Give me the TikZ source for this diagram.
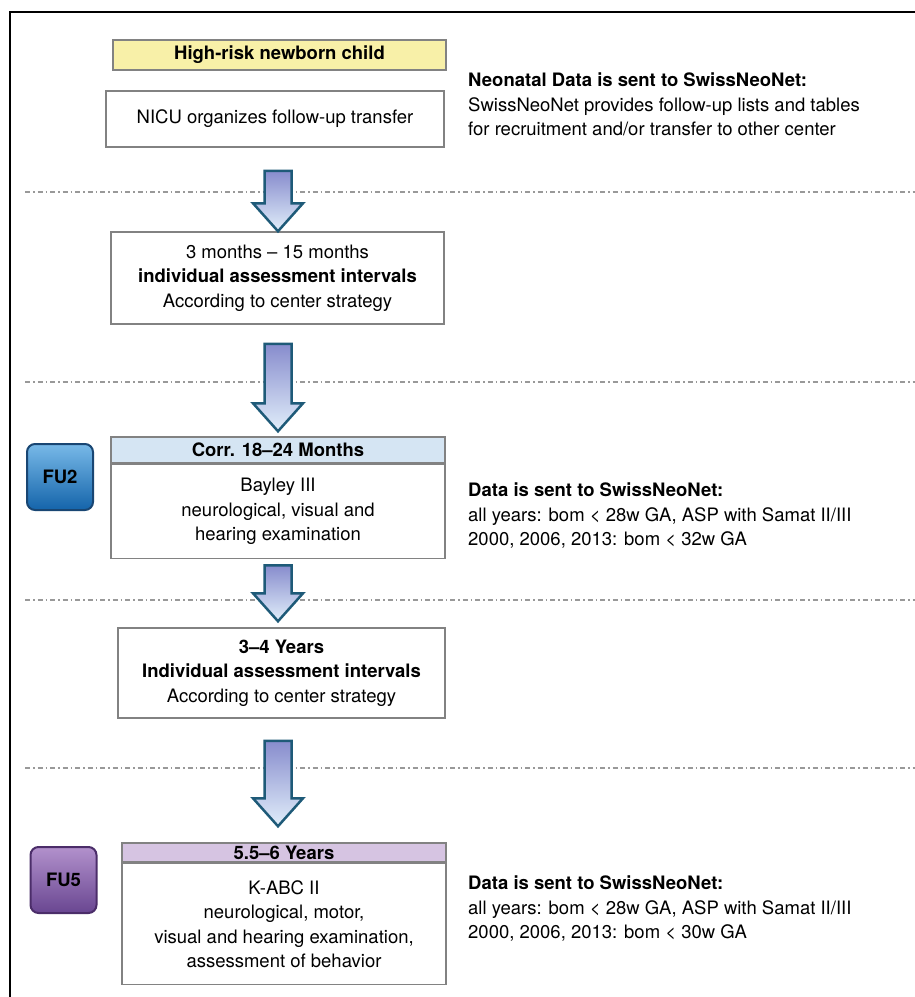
\documentclass[tikz,border=0pt]{standalone}
\usepackage{fontspec}
\setmainfont{TeX Gyre Heros}
\usetikzlibrary{calc,positioning}

\definecolor{framegray}{RGB}{130,130,130}
\definecolor{startyellow}{RGB}{248,240,168}
\definecolor{headblue}{RGB}{213,229,243}
\definecolor{headpurple}{RGB}{214,196,226}
\definecolor{arrowline}{RGB}{30,90,120}
\definecolor{arrowtop}{RGB}{135,140,205}
\definecolor{arrowbottom}{RGB}{225,238,250}

% block arrow from a tail point down to a tip point
\newcommand{\blockarrow}[2]{%
  \draw[arrowbody] let \p1=#1, \p2=#2 in
    (\x2-13.5pt,\y1) -- (\x2+13.5pt,\y1) -- (\x2+13.5pt,\y2+28pt) -- (\x2+25pt,\y2+28pt)
    -- (\x2,\y2) -- (\x2-25pt,\y2+28pt) -- (\x2-13.5pt,\y2+28pt) -- cycle;}

\begin{document}
\begin{tikzpicture}[
    x=1pt, y=1pt,
    every node/.style={font=\fontsize{18.5}{24.5}\selectfont, text=black},
    stepbox/.style={rectangle, draw=framegray, line width=1.5pt, fill=white, align=center, inner sep=0pt},
    headbox/.style={stepbox, font=\fontsize{18.5}{24.5}\selectfont\bfseries},
    infotext/.style={anchor=north west, align=left, inner sep=0pt},
    fubadge/.style={rectangle, rounded corners=8pt, line width=2pt, minimum width=66pt, minimum height=66pt,
        font=\fontsize{18.5}{24.5}\selectfont\bfseries},
    sepline/.style={draw=black!40, line width=1.2pt, dash pattern=on 5pt off 3pt on 1.5pt off 3pt},
    arrowbody/.style={draw=arrowline, line width=2.5pt, line join=miter, top color=arrowtop, bottom color=arrowbottom}
]
    \useasboundingbox (0,0) rectangle (915,-997);
    \draw[line width=1.5pt] (10,-997) -- (10,-12) -- (915,-12);

    \foreach \y in {192,382,600,768}
        \draw[sepline] (25,-\y) -- (915,-\y);

    \coordinate (axis) at (278,0);

    % flow boxes
    \node[headbox, fill=startyellow, minimum width=333pt, minimum height=30pt] (start) at (279.5,-55) {High-risk newborn child};
    \node[stepbox, minimum width=338pt, minimum height=56pt] (nicu) at (275,-119) {NICU organizes follow-up transfer};
    \node[stepbox, minimum width=333pt, minimum height=92pt] (early) at (277.5,-278)
        {3 months – 15 months\\\textbf{individual assessment intervals}\\According to center strategy};

    \node[headbox, fill=headblue, minimum width=334pt, minimum height=26pt] (fu2head) at (278,-450) {Corr. 18–24 Months};
    \node[stepbox, minimum width=334pt, minimum height=94pt, below=0pt of fu2head] (fu2body)
        {Bayley III\\neurological, visual and\\hearing examination};

    \node[stepbox, minimum width=327pt, minimum height=90pt] (mid) at (281.5,-673)
        {\textbf{3–4 Years}\\\textbf{Individual assessment intervals}\\According to center strategy};

    \node[headbox, fill=headpurple, minimum width=324pt, minimum height=19pt] (fu5head) at (284,-852.5) {5.5–6 Years};
    \node[stepbox, minimum width=324pt, minimum height=121pt, below=0pt of fu5head] (fu5body)
        {K-ABC II\\neurological, motor,\\visual and hearing examination,\\assessment of behavior};

    % follow-up badges
    \node[fubadge, draw={rgb,255:red,25;green,70;blue,115},
        top color={rgb,255:red,120;green,185;blue,232}, bottom color={rgb,255:red,20;green,100;blue,170}] (fu2) at (60,-477) {FU2};
    \node[fubadge, draw={rgb,255:red,75;green,45;blue,105},
        top color={rgb,255:red,178;green,145;blue,204}, bottom color={rgb,255:red,105;green,70;blue,145}] (fu5) at (63.5,-880) {FU5};

    % data notes
    \node[infotext] (note1) at (468,-73) {\textbf{Neonatal Data is sent to SwissNeoNet:}\\SwissNeoNet provides follow-up lists and tables\\for recruitment and/or transfer to other center};
    \node[infotext] (note2) at (468,-483) {\textbf{Data is sent to SwissNeoNet:}\\all years: bom < 28w GA, ASP with Samat II/III\\2000, 2006, 2013: bom < 32w GA};
    \node[infotext] (note3) at (468,-876) {\textbf{Data is sent to SwissNeoNet:}\\all years: bom < 28w GA, ASP with Samat II/III\\2000, 2006, 2013: bom < 30w GA};

    % arrows between the stages
    \blockarrow{($(nicu.south -| axis)+(0,-23)$)}{(early.north -| axis)}
    \blockarrow{($(early.south -| axis)+(0,-19)$)}{($(fu2head.north -| axis)+(0,5)$)}
    \blockarrow{($(fu2body.south -| axis)+(0,-6)$)}{($(mid.north -| axis)+(0,6)$)}
    \blockarrow{($(mid.south -| axis)+(0,-22)$)}{($(fu5head.north -| axis)+(0,16)$)}
\end{tikzpicture}
\end{document}
